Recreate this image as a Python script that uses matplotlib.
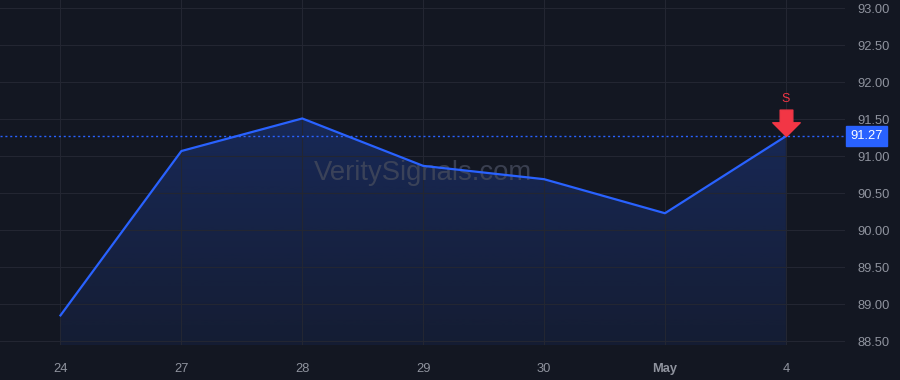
import matplotlib
matplotlib.use("Agg")
import matplotlib.pyplot as plt
import numpy as np
from matplotlib.path import Path

# data
dates = ["24", "27", "28", "29", "30", "May", "4"]
prices = [88.85, 91.07, 91.51, 90.87, 90.69, 90.23, 91.27]
last_price = 91.27
yticks = [88.5, 89.0, 89.5, 90.0, 90.5, 91.0, 91.5, 92.0, 92.5, 93.0]

bg = "#131722"
grid_c = "#232632"
text_c = "#8f939e"
blue = "#2962ff"
red = "#f23645"

plt.rcParams['font.family'] = ['Liberation Sans', 'DejaVu Sans']

fig = plt.figure(figsize=(9, 3.8), dpi=100, facecolor=bg)
ax = fig.add_axes([0, 0.092, 0.939, 0.908], facecolor=bg)

x = np.arange(len(dates))
ax.set_xlim(-0.5, 6.49)
ax.set_ylim(88.45, 93.11)

# gradient fill under the line, clipped to the area below the price
grad = np.linspace(0.24, 0.08, 256).reshape(-1, 1)
img = ax.imshow(np.ones((256, 1, 3)) * np.array([0x29, 0x62, 0xff]) / 255,
                extent=[-0.5, 6.49, 88.45, max(prices)], aspect="auto",
                alpha=grad, origin="upper", zorder=1)
clip = Path(np.column_stack([np.r_[x[0], x, x[-1]], np.r_[88.45, prices, 88.45]]))
img.set_clip_path(clip, transform=ax.transData)

ax.plot(x, prices, color=blue, lw=1.6, zorder=3)
ax.axhline(last_price, color=blue, lw=1, ls=(0, (1.5, 2)), zorder=2)

# sell arrow
arrow = Path([(-6, 25), (6, 25), (6, 13), (13, 13), (0, 0), (-13, 13), (-6, 13), (-6, 25)],
             [Path.MOVETO] + [Path.LINETO] * 6 + [Path.CLOSEPOLY])
ax.plot(x[-1], last_price, marker=arrow, markersize=38, color=red, mec=red, zorder=5,
        clip_on=False)
ax.annotate("S", (x[-1], last_price), xytext=(0, 27), textcoords="offset points",
            ha="center", va="center", color=red, fontsize=9)

ax.text(0.5, 0.5, "VeritySignals.com", transform=ax.transAxes, ha="center", va="center",
        fontsize=19.8, color="#444a5c", alpha=0.8, zorder=2)

ax.set_xticks(x)
ax.set_xticklabels(dates)
for lab in ax.get_xticklabels():
    if lab.get_text() == "May":
        lab.set_fontweight("bold")
ax.set_yticks(yticks)
ax.set_yticklabels([f"{v:.2f}" for v in yticks])
ax.yaxis.tick_right()
ax.tick_params(axis="both", length=0, colors=text_c, labelsize=9.3)
ax.tick_params(axis="x", pad=13)
ax.tick_params(axis="y", pad=9)
ax.grid(True, color=grid_c, lw=0.8)
for s in ax.spines.values():
    s.set_visible(False)

ax.text(1.0065, last_price, f"{last_price:.2f}", transform=ax.get_yaxis_transform(),
        ha="left", va="center", color="white", fontsize=9.3,
        bbox=dict(boxstyle="square,pad=0.32", fc=blue, ec=blue), clip_on=False, zorder=6)

fig.savefig("out.png", dpi=100, facecolor=bg)
